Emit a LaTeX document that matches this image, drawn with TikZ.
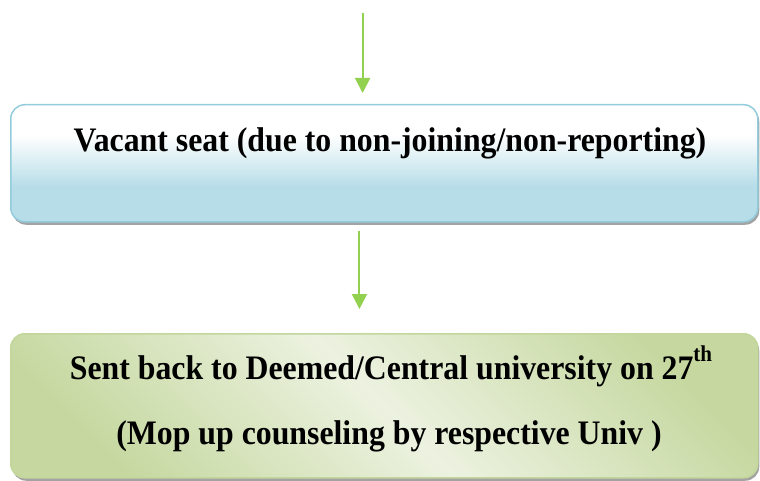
\documentclass[tikz,border=0pt]{standalone}
\usepackage{fontspec}
\setmainfont{Liberation Serif}
\usetikzlibrary{arrows.meta,shadows}

\definecolor{arrowgreen}{RGB}{146,208,80}
\definecolor{seatline}{RGB}{147,205,221}
\definecolor{seatfill}{RGB}{183,221,232}
\definecolor{univline}{RGB}{195,214,155}
\definecolor{univdark}{RGB}{198,216,160}
\definecolor{univlight}{RGB}{236,242,224}
\pgfdeclareverticalshading{seatshade}{100bp}{color(0bp)=(seatfill); color(40bp)=(seatfill); color(62bp)=(white); color(100bp)=(white)}
\pgfdeclarehorizontalshading{univshade}{100bp}{color(0bp)=(univdark); color(24bp)=(univdark); color(50bp)=(univlight); color(76bp)=(univdark); color(100bp)=(univdark)}
\newcommand{\tall}[1]{\scalebox{1}[1.08]{#1}}

\begin{document}
\begin{tikzpicture}[x=1pt,y=-1pt,
  box/.style={rounded corners=14pt, line width=1.5pt, anchor=north west, minimum width=747pt,
    drop shadow={shadow xshift=1.5pt, shadow yshift=-3pt, fill=black!45, opacity=.8}},
  lbl/.style={font=\fontsize{31.8}{38}\selectfont\bfseries, anchor=base, inner sep=0pt},
  flow/.style={draw=arrowgreen, line width=2pt, -{Triangle[width=15pt,length=15pt]}}]
\useasboundingbox (0,0) rectangle (760,481);

\node[box, draw=seatline, shading=seatshade, minimum height=117pt] (seat) at (10,104) {};
\node[box, draw=univline, shading=univshade, shading angle=45, minimum height=144pt] (univ) at (10,333) {};

\node[lbl] (seattext) at (390,152) {\tall{Vacant seat (due to non-joining/non-reporting)}};
\node[lbl] (univtext) at (391,379) {\tall{Sent back to Deemed/Central university on 27\raisebox{.5em}{\fontsize{21}{21}\selectfont th}}};
\node[lbl] (moptext) at (389,444) {\tall{(Mop up counseling by respective Univ )}};

\coordinate (start) at (362.6,12.7);
\draw[flow, shorten >=11pt] (start) -- (start |- seat.north);
\draw[flow, shorten <=8pt, shorten >=24pt] ([xshift=-24.8pt]seat.south) -- ([xshift=-24.8pt]univ.north);
\end{tikzpicture}
\end{document}
